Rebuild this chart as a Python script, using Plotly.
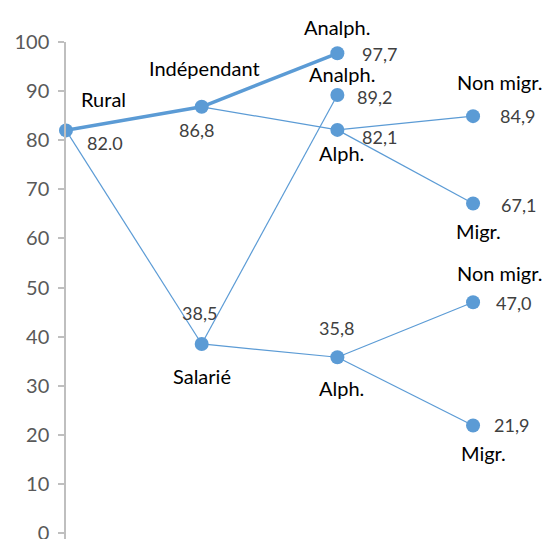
import plotly.graph_objects as go

# Tree data
node_labels = ["Rural", "Indépendant", "Salarié", "Analph.", "Alph.", "Analph.", "Alph.",
               "Non migr.", "Migr.", "Non migr.", "Migr."]
node_values = [82.0, 86.8, 38.5, 97.7, 82.1, 89.2, 35.8, 84.9, 67.1, 47.0, 21.9]
value_text = ["82.0", "86,8", "38,5", "97,7", "82,1", "89,2", "35,8", "84,9", "67,1", "47,0", "21,9"]
node_level = [0, 1, 1, 2, 2, 2, 2, 3, 3, 3, 3]
node_parent = [None, 0, 0, 1, 1, 2, 2, 4, 4, 6, 6]
thick_nodes = [1, 3]  # edges into these nodes are thick

y_ticks = [0, 10, 20, 30, 40, 50, 60, 70, 80, 90, 100]

# label offsets (px) : (name dx, name dy, value dx, value dy)
name_off = [(37, 31), (3, 39), (0, -32), (0, 26), (4, -23), (5, 21), (4, -31),
            (26, 34), (5, -27), (26, 29), (10, -28)]
val_off = [(39, -13), (-5, -23), (-2, 31), (42, -1), (42, -7), (37, -2), (-1, 29),
           (44, 0), (45, -1), (40, -1), (38, 0)]

BLUE = "#5B9BD5"
fig = go.Figure()

for i, p in enumerate(node_parent):
    if p is None:
        continue
    fig.add_trace(go.Scatter(
        x=[node_level[p], node_level[i]], y=[node_values[p], node_values[i]],
        mode="lines", line=dict(color=BLUE, width=3.5 if i in thick_nodes else 1.2),
        hoverinfo="skip", showlegend=False, cliponaxis=False))

fig.add_trace(go.Scatter(x=node_level, y=node_values, mode="markers",
                         marker=dict(color=BLUE, size=14), showlegend=False,
                         text=node_labels, cliponaxis=False))

for i in range(len(node_labels)):
    fig.add_annotation(x=node_level[i], y=node_values[i], text=node_labels[i],
                       showarrow=False, xshift=name_off[i][0], yshift=name_off[i][1],
                       font=dict(family="Lato", size=20, color="#000000"))
    fig.add_annotation(x=node_level[i], y=node_values[i], text=value_text[i],
                       showarrow=False, xshift=val_off[i][0], yshift=val_off[i][1],
                       font=dict(family="Lato", size=18, color="#404040"))

fig.update_layout(
    width=550, height=539,
    margin=dict(l=58, r=0, t=34, b=8, autoexpand=False),
    plot_bgcolor="white", paper_bgcolor="white",
    xaxis=dict(range=[0, 3.626], visible=False, automargin=False),
    yaxis=dict(range=[-1.22, 100], tickvals=y_ticks, showgrid=False, zeroline=False,
               automargin=False,
               showline=True, linecolor="#BFBFBF", linewidth=1.5,
               ticks="outside", ticklen=6, tickcolor="#BFBFBF", tickwidth=1.5,
               ticklabelstandoff=5,
               tickfont=dict(family="Lato", size=20, color="#595959")),
)
fig.write_html("out.html")
